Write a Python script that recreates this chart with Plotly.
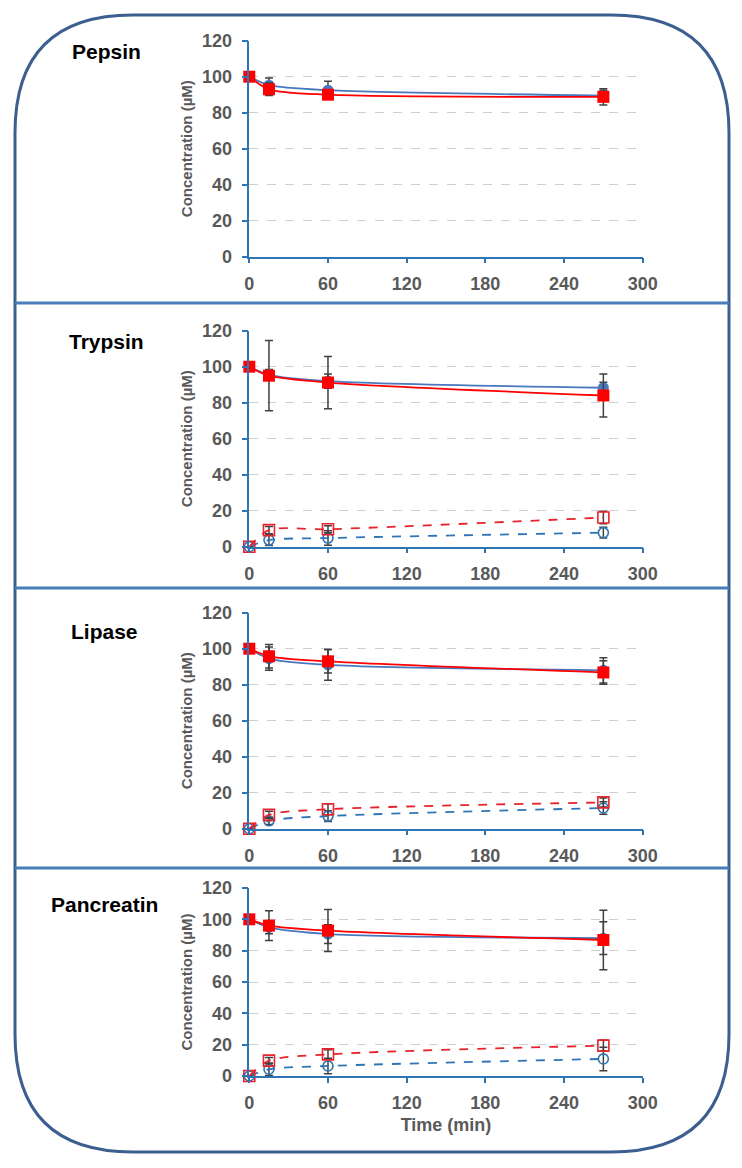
import plotly.graph_objs as go

# Sampling times (min)
time_min = [0, 15, 60, 270]

panels = ["Pepsin", "Trypsin", "Lipase", "Pancreatin"]

# Solid series (filled markers)
blue_solid = {
    "Pepsin": [100, 95.3, 92.5, 89.5],
    "Trypsin": [100, 95.5, 92.0, 88.3],
    "Lipase": [100, 94.5, 91.0, 88.0],
    "Pancreatin": [100, 94.8, 90.6, 88.0],
}
blue_solid_err = {
    "Pepsin": [0, 4, 5, 3],
    "Trypsin": [0, 3, 4, 3],
    "Lipase": [0, 6.5, 8.5, 7],
    "Pancreatin": [0, 4, 6, 10.5],
}
red_solid = {
    "Pepsin": [100, 93.0, 90.0, 88.8],
    "Trypsin": [100, 95.0, 91.2, 84.0],
    "Lipase": [100, 95.8, 93.0, 86.8],
    "Pancreatin": [100, 96.0, 92.8, 86.8],
}
red_solid_err = {
    "Pepsin": [0, 3.5, 2, 4.5],
    "Trypsin": [0, 19.5, 14.5, 12],
    "Lipase": [0, 6.5, 6.5, 6.5],
    "Pancreatin": [0, 9.5, 13.4, 19],
}

# Dashed series (open markers) - not measured for pepsin
blue_dashed = {
    "Trypsin": [0, 3.7, 4.8, 7.8],
    "Lipase": [0, 4.4, 7.0, 11.5],
    "Pancreatin": [0, 4.3, 6.4, 10.9],
}
blue_dashed_err = {
    "Trypsin": [0, 3, 4, 3],
    "Lipase": [0, 2, 3, 3.5],
    "Pancreatin": [0, 4, 5, 7.5],
}
red_dashed = {
    "Trypsin": [0, 9.2, 9.7, 16.2],
    "Lipase": [0, 7.7, 10.8, 14.6],
    "Pancreatin": [0, 9.8, 13.8, 19.4],
}
red_dashed_err = {
    "Trypsin": [0, 2, 2, 3.5],
    "Lipase": [0, 2, 3, 2.5],
    "Pancreatin": [0, 2, 3, 3.5],
}

x_ticks = [0, 60, 120, 180, 240, 300]
y_ticks = [0, 20, 40, 60, 80, 100, 120]

# page body has an 8px margin, so the figure is 16px smaller than the window
OFF = 8
W, H = 742 - 2 * OFF, 1168 - 2 * OFF
def px(x): return (x - OFF) / W
def py(y): return 1 - (y - OFF) / H

# pixel positions (window coords) of each plot area (top, bottom)
plot_rows = [(40.7, 256.7), (330.7, 546.7), (612.7, 828.7), (888, 1076)]
plot_x = (249.3, 642.7)
label_pos = [(107, 52), (106, 341), (105, 631), (105, 904)]
separators = [303, 588, 868]

BLUE = "#4A78BE"
BLUE_D = "#2F75B5"
RED = "#FF0000"
RED_D = "#E8232B"
AXIS = "#2E75B6"
GRAY = "#595959"
ERR = dict(type="data", visible=True, color="#404040", thickness=1.5, width=4)
FONT = "Liberation Sans"

fig = go.Figure()

for i, name in enumerate(panels):
    ax = "" if i == 0 else str(i + 1)
    xa, ya = "x" + ax, "y" + ax

    if name in blue_dashed:
        fig.add_trace(go.Scatter(
            x=time_min, y=blue_dashed[name], xaxis=xa, yaxis=ya,
            mode="lines+markers", line=dict(color=BLUE_D, width=1.8, dash="dash", shape="spline", smoothing=0.8),
            marker=dict(symbol="circle-open", size=10, color=BLUE_D, line=dict(width=1.6)),
            error_y=dict(array=blue_dashed_err[name], **ERR), cliponaxis=False, showlegend=False))
        fig.add_trace(go.Scatter(
            x=time_min, y=red_dashed[name], xaxis=xa, yaxis=ya,
            mode="lines+markers", line=dict(color=RED_D, width=1.8, dash="dash", shape="spline", smoothing=0.8),
            marker=dict(symbol="square-open", size=11, color=RED_D, line=dict(width=1.6)),
            error_y=dict(array=red_dashed_err[name], **ERR), cliponaxis=False, showlegend=False))

    fig.add_trace(go.Scatter(
        x=time_min, y=blue_solid[name], xaxis=xa, yaxis=ya,
        mode="lines+markers", line=dict(color=BLUE, width=1.8, shape="spline", smoothing=0.8),
        marker=dict(symbol="circle", size=11, color=BLUE),
        error_y=dict(array=blue_solid_err[name], **ERR), cliponaxis=False, showlegend=False))
    fig.add_trace(go.Scatter(
        x=time_min, y=red_solid[name], xaxis=xa, yaxis=ya,
        mode="lines+markers", line=dict(color=RED, width=1.8, shape="spline", smoothing=0.8),
        marker=dict(symbol="square", size=12, color=RED),
        error_y=dict(array=red_solid_err[name], **ERR), cliponaxis=False, showlegend=False))

    top, bot = plot_rows[i]
    fig.update_layout(**{
        "xaxis" + ax: dict(
            domain=[px(plot_x[0]), px(plot_x[1])], anchor=ya, range=[0, 300],
            tickvals=x_ticks, showgrid=False, zeroline=False,
            showline=True, linecolor=AXIS, linewidth=1.5,
            ticks="outside", ticklen=5, tickcolor=AXIS, tickwidth=1.5, ticklabelstandoff=5,
            tickfont=dict(family=FONT, size=18, color=GRAY, weight="bold"),
            title=dict(text="Time (min)" if i == 3 else "", standoff=6,
                       font=dict(family=FONT, size=18, color=GRAY, weight="bold")),
        ),
        "yaxis" + ax: dict(
            domain=[py(bot), py(top)], anchor=xa, range=[0, 120],
            tickvals=y_ticks, zeroline=False,
            showgrid=True, gridcolor="#CFCFCF", gridwidth=1, griddash="dash",
            showline=True, linecolor=AXIS, linewidth=1.5,
            ticks="outside", ticklen=6, tickcolor=AXIS, tickwidth=1.5, ticklabelstandoff=6,
            tickfont=dict(family=FONT, size=18, color=GRAY, weight="bold"),
            title=dict(text="Concentration (µM)", standoff=6,
                       font=dict(family=FONT, size=15, color=GRAY, weight="bold")),
        ),
    })

    lx, ly = label_pos[i]
    fig.add_annotation(x=px(lx), y=py(ly), xref="paper", yref="paper", text="<b>" + name + "</b>",
                       xanchor="center", yanchor="middle", showarrow=False,
                       font=dict(family=FONT, size=21, color="black"))

# rounded outer frame
x0, x1, y0, y1, r = 15, 729, 15, 1152, 118
path = (f"M {px(x0 + r)},{py(y0)} L {px(x1 - r)},{py(y0)} "
        f"Q {px(x1)},{py(y0)} {px(x1)},{py(y0 + r)} L {px(x1)},{py(y1 - r)} "
        f"Q {px(x1)},{py(y1)} {px(x1 - r)},{py(y1)} L {px(x0 + r)},{py(y1)} "
        f"Q {px(x0)},{py(y1)} {px(x0)},{py(y1 - r)} L {px(x0)},{py(y0 + r)} "
        f"Q {px(x0)},{py(y0)} {px(x0 + r)},{py(y0)} Z")
shapes = [dict(type="path", path=path, xref="paper", yref="paper", line=dict(color="#3D5F8F", width=3))]
for s in separators:
    shapes.append(dict(type="line", xref="paper", yref="paper", x0=px(x0), x1=px(x1), y0=py(s), y1=py(s),
                       line=dict(color="#4A7EBB", width=3)))

fig.update_layout(
    width=W, height=H, margin=dict(l=0, r=0, t=0, b=0, autoexpand=False),
    paper_bgcolor="white", plot_bgcolor="white",
    shapes=shapes, showlegend=False,
)

fig.write_html("out.html")
